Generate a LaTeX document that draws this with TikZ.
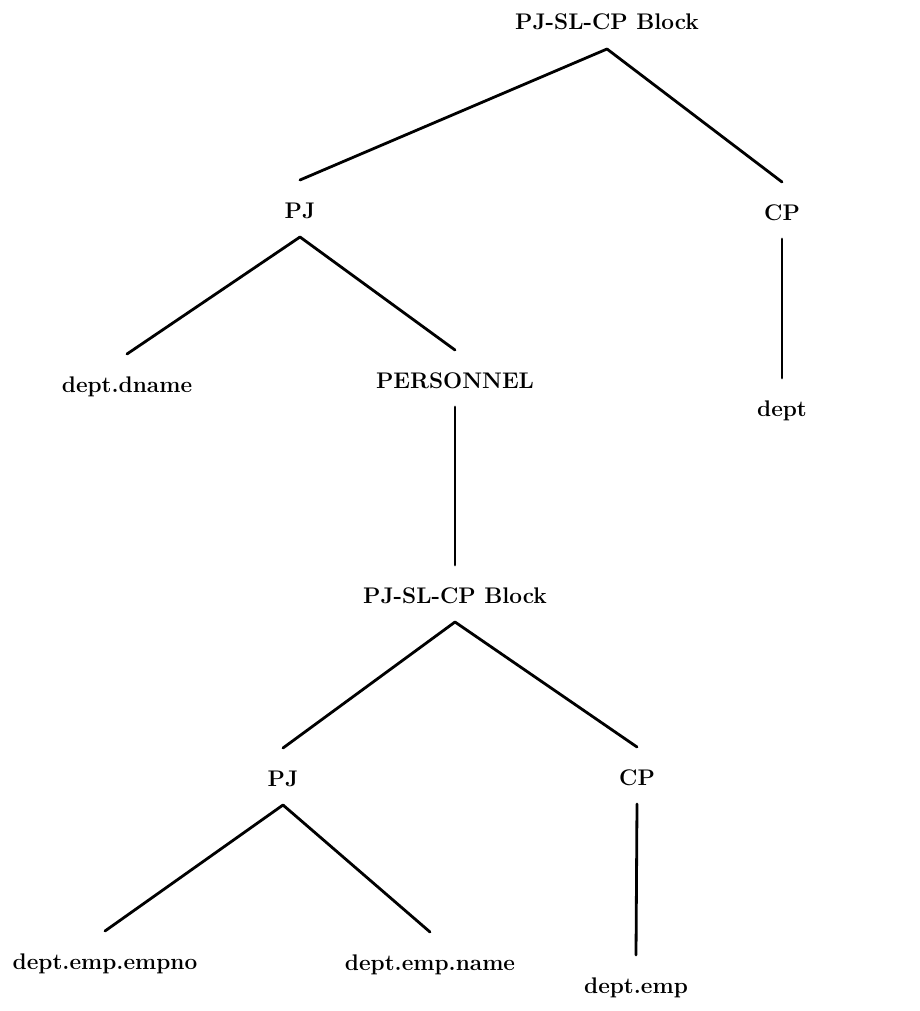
\documentclass[tikz,border=0pt]{standalone}
\usepackage{tikz}
\usetikzlibrary{arrows.meta}
\tikzset{%
  tree_label/.style={%
    font={\fontsize{11.3}{13}\selectfont\bfseries},%
    text height=12pt,%
    text depth=2.5pt,%
    inner sep=0pt,%
    outer sep=7pt,%
    anchor=base%
  },
  tree_branch/.style={%
    line width=1.4pt,%
    line cap=round,%
    color=black%
  },
}
\begin{document}
\begin{tikzpicture}[x=0.5pt, y=-0.5pt]
    \useasboundingbox (0,0) rectangle (920,1011);

    % upper block
    \node [tree_label] (Block1) at (607, 30) {PJ-SL-CP Block};
    \node [tree_label] (PJ1) at (300, 218) {PJ};
    \node [tree_label] (CP1) at (782, 220) {CP};
    \node [tree_label] (DName) at (127, 392) {dept.dname};
    \node [tree_label] (Personnel) at (455, 388) {PERSONNEL};
    \node [tree_label] (Dept) at (782, 416) {dept};

    % lower block
    \node [tree_label] (Block2) at (455, 603) {PJ-SL-CP Block};
    \node [tree_label] (PJ2) at (283, 786) {PJ};
    \node [tree_label] (CP2) at (637, 785) {CP};
    \node [tree_label] (EmpNo) at (105, 969) {dept.emp.empno};
    \node [tree_label] (EmpName) at (430, 970) {dept.emp.name};
    \node [tree_label] (DeptEmp) at (636, 993) {dept.emp};

    \draw [tree_branch] (Block1.south) -- (PJ1.north);
    \draw [tree_branch] (Block1.south) -- (CP1.north);
    \draw [tree_branch] (PJ1.south) -- (DName.north);
    \draw [tree_branch] (PJ1.south) -- (Personnel.north);
    \draw [tree_branch] (CP1.south) -- (Dept.north);
    \draw [tree_branch] (Personnel.south) -- (Block2.north);
    \draw [tree_branch] (Block2.south) -- (PJ2.north);
    \draw [tree_branch] (Block2.south) -- (CP2.north);
    \draw [tree_branch] (PJ2.south) -- (EmpNo.north);
    \draw [tree_branch] (PJ2.south) -- (EmpName.north);
    \draw [tree_branch] (CP2.south) -- (DeptEmp.north);
  \end{tikzpicture}
\end{document}
